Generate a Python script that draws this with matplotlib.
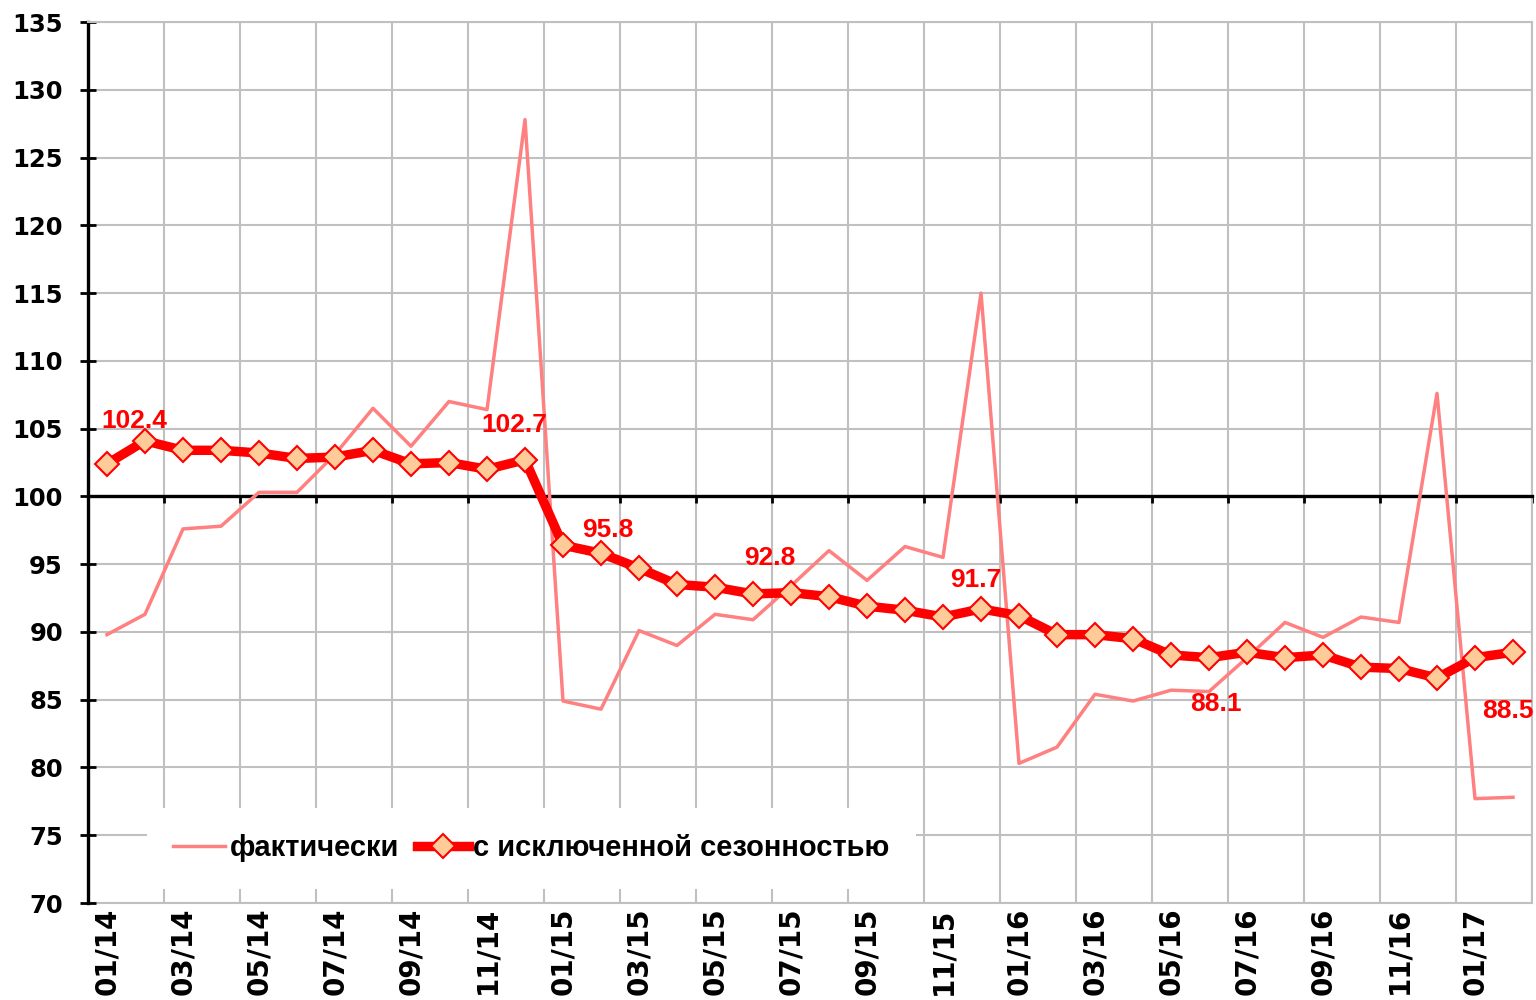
import matplotlib
matplotlib.use('Agg')
import matplotlib.pyplot as plt
from matplotlib.font_manager import FontProperties
import numpy as np

months = ['01/14', '02/14', '03/14', '04/14', '05/14', '06/14', '07/14', '08/14', '09/14', '10/14', '11/14', '12/14',
          '01/15', '02/15', '03/15', '04/15', '05/15', '06/15', '07/15', '08/15', '09/15', '10/15', '11/15', '12/15',
          '01/16', '02/16', '03/16', '04/16', '05/16', '06/16', '07/16', '08/16', '09/16', '10/16', '11/16', '12/16',
          '01/17', '02/17']

# фактически
actual = [89.8, 91.3, 97.6, 97.8, 100.3, 100.3, 103.1, 106.5, 103.7, 107.0, 106.4, 127.8,
          84.9, 84.3, 90.1, 89.0, 91.3, 90.9, 93.4, 96.0, 93.8, 96.3, 95.5, 115.0,
          80.3, 81.5, 85.4, 84.9, 85.7, 85.6, 88.1, 90.7, 89.6, 91.1, 90.7, 107.6,
          77.7, 77.8]

# с исключенной сезонностью
seasonal = [102.4, 104.1, 103.4, 103.4, 103.2, 102.8, 102.9, 103.4, 102.4, 102.5, 102.0, 102.7,
            96.4, 95.8, 94.7, 93.5, 93.3, 92.8, 92.9, 92.6, 91.9, 91.6, 91.1, 91.7,
            91.2, 89.8, 89.8, 89.5, 88.3, 88.1, 88.5, 88.1, 88.3, 87.4, 87.3, 86.6,
            88.1, 88.5]

label_idx = [0, 11, 13, 17, 23, 29, 37]
# offsets of the value labels (points)
label_off = [(20, 31), (-8, 25), (5, 17), (12, 26), (-4, 21), (5, -33), (-4, -42)]

fig = plt.figure(figsize=(15.36, 10), dpi=100)
ax = fig.add_axes([88 / 1536, 0.097, 1444 / 1536, 0.881])

x = np.arange(len(months))
ax.plot(x, actual, color='#FF8080', lw=2.5, label='фактически', zorder=3)
ax.plot(x, seasonal, color='red', lw=6.8, marker='D', ms=12, mfc='#FFCC99', mec='red', mew=1.5,
        label='с исключенной сезонностью', zorder=4)

for i, (dx, dy) in zip(label_idx, label_off):
    ax.annotate('%.1f' % seasonal[i], (i, seasonal[i]), xytext=(dx, dy), textcoords='offset points',
                ha='center', va='center', color='red', fontsize=19, fontweight='bold',
                family='Liberation Sans', zorder=6)

ax.set_xlim(-0.5, len(months) - 0.5)
ax.set_ylim(70, 135)
ax.set_yticks(np.arange(70, 136, 5))
ax.set_xticks(np.arange(-0.5, len(months), 2))
ax.grid(True, color='#C0C0C0', lw=1.5)
ax.set_axisbelow(True)

# x axis crosses at 100
ax.spines['bottom'].set_position(('data', 100))
ax.spines['bottom'].set_linewidth(2.4)
ax.spines['left'].set_linewidth(2.4)
for s in ['top', 'right']:
    ax.spines[s].set_color('#C0C0C0')
    ax.spines[s].set_linewidth(1.5)
ax.tick_params(axis='x', direction='out', length=5, width=2, labelbottom=False)
ax.tick_params(axis='y', direction='inout', length=12, width=2, pad=12)
for t in ax.get_yticklabels():
    t.set_fontfamily('DejaVu Sans')
    t.set_fontweight('bold')
    t.set_fontsize(17.5)

# month labels at the bottom
sec = ax.secondary_xaxis(0)
sec.set_xticks(x[::2], labels=months[::2])
sec.tick_params(length=0, pad=3, labelrotation=90)
sec.spines['bottom'].set_color('#C0C0C0')
sec.spines['bottom'].set_linewidth(1.5)
for t in sec.get_xticklabels():
    t.set_fontfamily('DejaVu Sans')
    t.set_fontweight('bold')
    t.set_fontsize(20)

leg = ax.legend(loc='center', bbox_to_anchor=(0.307, 0.062), ncol=2, frameon=True, fancybox=False,
                framealpha=1, edgecolor='white',
                prop=FontProperties(family='Liberation Sans', weight='bold', size=21),
                handlelength=1.8, handletextpad=0.15, columnspacing=0.6, borderpad=0.9)
leg.get_frame().set_linewidth(0)

plt.savefig('out.png', dpi=100)
plt.close()
